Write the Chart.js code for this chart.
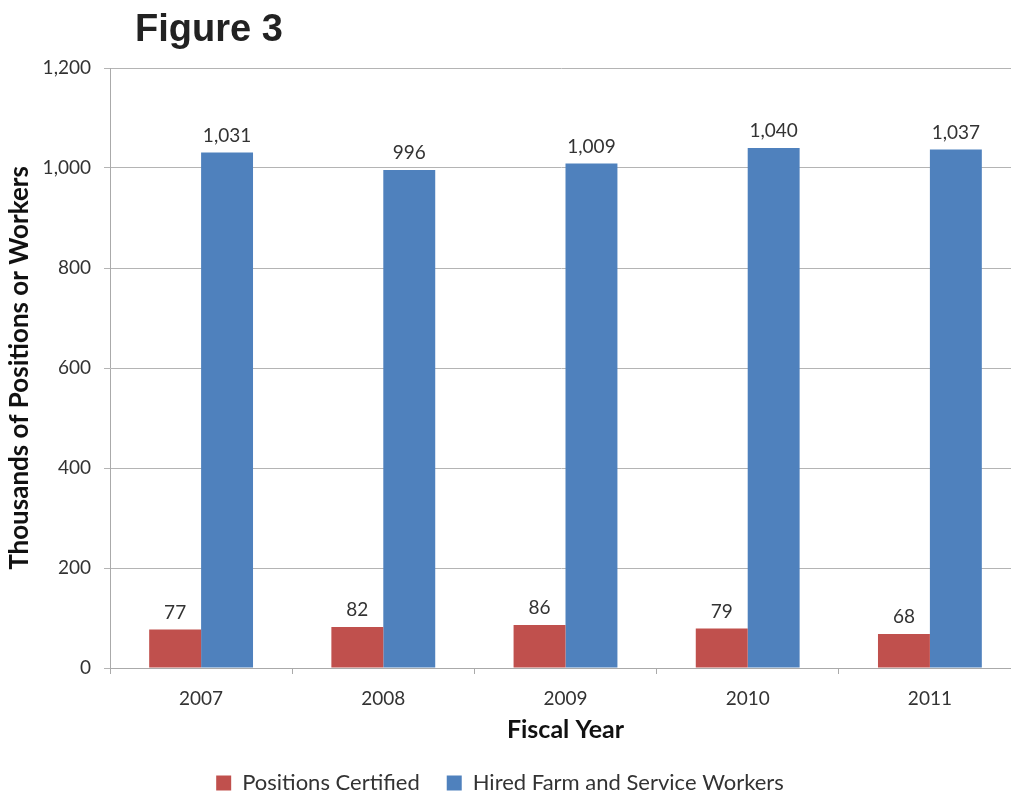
<!DOCTYPE html>
<html>
<head>
<meta charset="utf-8">
<script src="https://cdn.jsdelivr.net/npm/chart.js@4.4.1/dist/chart.umd.min.js"></script>
<style>
html,body{margin:0;padding:0;background:#fff;overflow:hidden;}
#wrap{position:relative;width:1011px;height:795px;overflow:hidden;}
#fig{position:absolute;left:135px;top:9px;line-height:1;font-family:"Liberation Sans",Arial,sans-serif;font-weight:bold;font-size:38px;color:#222;}
</style>
</head>
<body>
<div id="wrap">
<canvas id="c" width="1011" height="795"></canvas>
<div id="fig">Figure 3</div>
</div>
<script>
const categories = ["2007", "2008", "2009", "2010", "2011"];
const positionsCertified = [77, 82, 86, 79, 68];
const hiredWorkers = [1031, 996, 1009, 1040, 1037];
const yTicks = [0, 200, 400, 600, 800, 1000, 1200];

const FONT = "Lato, 'Open Sans', sans-serif";
const fmt = v => v.toLocaleString('en-US');

// The original plot area runs past the right edge of the picture (cropped).
const PLOT_RIGHT = 1021;
const extendPlot = {
  id: 'extendPlot',
  afterLayout(chart) {
    const ca = chart.chartArea;
    ca.right = PLOT_RIGHT; ca.width = ca.right - ca.left;
    const x = chart.scales.x;
    x.right = PLOT_RIGHT; x.width = x.right - x.left;
    x.configure();
  }
};

const valueLabels = {
  id: 'valueLabels',
  afterDatasetsDraw(chart) {
    const ctx = chart.ctx;
    ctx.save();
    ctx.font = "19px " + FONT;
    ctx.fillStyle = "#333";
    ctx.textAlign = "center";
    ctx.textBaseline = "alphabetic";
    chart.data.datasets.forEach((ds, i) => {
      const meta = chart.getDatasetMeta(i);
      meta.data.forEach((el, j) => {
        ctx.fillText(fmt(ds.data[j]), el.x, el.y - 11);
      });
    });
    ctx.restore();
  }
};

new Chart(document.getElementById('c'), {
  type: 'bar',
  data: {
    labels: categories,
    datasets: [
      { label: 'Positions Certified', data: positionsCertified, backgroundColor: '#C0504D' },
      { label: 'Hired Farm and Service Workers', data: hiredWorkers, backgroundColor: '#4F81BD' }
    ]
  },
  options: {
    responsive: false,
    animation: false,
    layout: { padding: { left: 4, right: 15, top: 68, bottom: 0 } },
    datasets: { bar: { categoryPercentage: 0.57, barPercentage: 1.0 } },
    plugins: {
      legend: {
        position: 'bottom',
        maxHeight: 50,
        labels: { font: { family: FONT, size: 22 }, color: '#333', boxWidth: 15, boxHeight: 15, padding: 27 }
      },
      tooltip: { enabled: false }
    },
    scales: {
      x: {
        grid: { drawOnChartArea: false, drawTicks: true, tickLength: 6, color: '#aaa' },
        border: { color: '#aaa' },
        ticks: { font: { family: FONT, size: 19 }, color: '#333', padding: 13 },
        title: { display: true, text: 'Fiscal Year', font: { family: FONT, size: 25, weight: 'bold' }, color: '#111', padding: { top: 0, bottom: 0 } },
        afterFit(s) { s.height = 77; }
      },
      y: {
        min: 0, max: 1200,
        afterBuildTicks(s) { s.ticks = yTicks.map(v => ({ value: v })); },
        grid: { color: '#b4b4b4', tickLength: 6 },
        border: { color: '#aaa' },
        ticks: { font: { family: FONT, size: 19 }, color: '#333', padding: 13, callback: v => fmt(v) },
        title: { display: true, text: 'Thousands of Positions or Workers', font: { family: FONT, size: 26, weight: 'bold' }, color: '#111', padding: { top: 0, bottom: 6 } },
        afterFit(s) { s.width = 106; }
      }
    }
  },
  plugins: [extendPlot, valueLabels]
});
</script>
</body>
</html>
